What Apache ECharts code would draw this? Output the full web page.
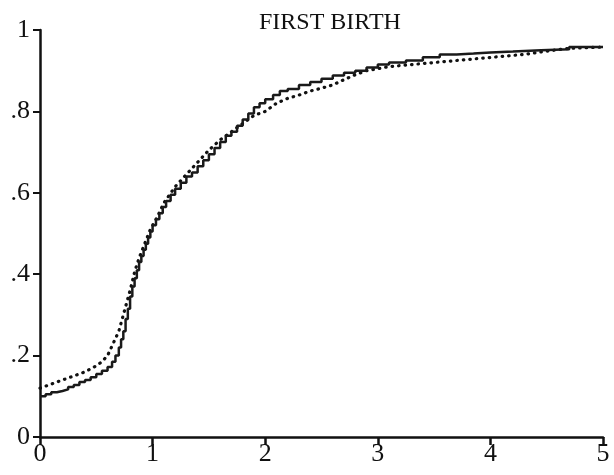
<!DOCTYPE html>
<html>
<head>
<meta charset="utf-8">
<title>First birth</title>
<script src="https://cdn.jsdelivr.net/npm/echarts@6/dist/echarts.min.js"></script>
<style>
  html, body { margin: 0; padding: 0; background: #ffffff; }
  #chart { width: 614px; height: 475px; }
</style>
</head>
<body>
<div id="chart"></div>
<script>
// Cumulative proportion having a first birth, by time (years)
const titleText = 'FIRST BIRTH';

const xTicks = ['0', '1', '2', '3', '4', '5'];
const yTickLabels = { 0: '0', 0.2: '.2', 0.4: '.4', 0.6: '.6', 0.8: '.8', 1: '1' };

// Observed (step function)
const observedX = [0, 0.05, 0.1, 0.15, 0.2, 0.25, 0.3, 0.35, 0.4, 0.45, 0.5, 0.55, 0.6, 0.64, 0.67,
  0.7, 0.72, 0.74, 0.76, 0.78, 0.8, 0.82, 0.84, 0.86, 0.88, 0.9, 0.92, 0.94, 0.96, 0.98,
  1.0, 1.03, 1.06, 1.09, 1.12, 1.16, 1.2, 1.25, 1.3, 1.35, 1.4, 1.45, 1.5, 1.55, 1.6,
  1.65, 1.7, 1.75, 1.8, 1.85, 1.9, 1.95, 2.0, 2.07, 2.13, 2.2, 2.3, 2.4, 2.5, 2.6,
  2.7, 2.8, 2.9, 3.0, 3.1, 3.25, 3.4, 3.55, 3.7, 3.85, 4.0, 4.2, 4.45, 4.7, 5.0];
const observedY = [0.10, 0.105, 0.11, 0.113, 0.117, 0.123, 0.128, 0.135, 0.14, 0.147, 0.155, 0.163, 0.172, 0.185, 0.2,
  0.22, 0.24, 0.26, 0.29, 0.315, 0.345, 0.37, 0.39, 0.41, 0.43, 0.445, 0.46, 0.475, 0.49, 0.505,
  0.52, 0.535, 0.55, 0.565, 0.58, 0.595, 0.61, 0.625, 0.64, 0.65, 0.665, 0.68, 0.695, 0.71, 0.725,
  0.74, 0.75, 0.765, 0.78, 0.795, 0.81, 0.82, 0.83, 0.84, 0.85, 0.855, 0.865, 0.872, 0.88, 0.888,
  0.895, 0.9, 0.908, 0.915, 0.92, 0.925, 0.933, 0.94, 0.942, 0.945, 0.947, 0.95, 0.953, 0.958, 0.958];

// Fitted (dotted)
const fittedX = [0, 0.1, 0.2, 0.3, 0.4, 0.5, 0.55, 0.6, 0.65, 0.7, 0.75, 0.8, 0.84, 0.88, 0.93,
  0.98, 1.04, 1.1, 1.2, 1.3, 1.4, 1.5, 1.6, 1.7, 1.8, 1.9, 2.0, 2.1, 2.2, 2.3,
  2.4, 2.5, 2.6, 2.7, 2.8, 2.9, 3.0, 3.1, 3.3, 3.5, 3.7, 3.9, 4.1, 4.3, 4.5, 4.7, 5.0];
const fittedY = [0.12, 0.13, 0.14, 0.15, 0.16, 0.175, 0.185, 0.2, 0.23, 0.26, 0.31, 0.36, 0.405, 0.44, 0.475,
  0.51, 0.54, 0.575, 0.615, 0.645, 0.675, 0.705, 0.73, 0.75, 0.77, 0.79, 0.80, 0.82, 0.832, 0.84,
  0.85, 0.857, 0.865, 0.878, 0.89, 0.9, 0.905, 0.91, 0.915, 0.92, 0.925, 0.93, 0.935, 0.94, 0.948, 0.955, 0.958];

const zip = (xs, ys) => xs.map((x, i) => [x, ys[i]]);

const serif = '"Liberation Serif", "DejaVu Serif", serif';
const ink = '#111111';

const chart = echarts.init(document.getElementById('chart'), null, { renderer: 'canvas' });

chart.setOption({
  backgroundColor: '#ffffff',
  animation: false,
  title: {
    text: titleText,
    left: 254,
    top: 6,
    textStyle: { fontFamily: serif, fontSize: 24, fontWeight: 'normal', color: ink }
  },
  grid: { left: 40, right: 11, top: 30, bottom: 38, containLabel: false },
  xAxis: {
    type: 'value',
    min: 0,
    max: 5,
    interval: 1,
    splitLine: { show: false },
    axisLine: { show: true, onZero: false, lineStyle: { color: ink, width: 2.5 } },
    axisTick: { show: true, length: 8, inside: false, lineStyle: { color: ink, width: 2.5 } },
    axisLabel: {
      margin: 4,
      fontFamily: serif,
      fontSize: 26,
      color: ink,
      formatter: v => xTicks[Math.round(v)]
    }
  },
  yAxis: {
    type: 'value',
    min: 0,
    max: 1,
    interval: 0.2,
    splitLine: { show: false },
    axisLine: { show: true, onZero: false, lineStyle: { color: ink, width: 2.5 } },
    axisTick: { show: true, length: 7, inside: false, lineStyle: { color: ink, width: 2 } },
    axisLabel: {
      margin: 10,
      fontFamily: serif,
      fontSize: 26,
      color: ink,
      formatter: v => yTickLabels[Math.round(v * 10) / 10]
    }
  },
  series: [
    {
      name: 'observed',
      type: 'line',
      step: 'end',
      data: zip(observedX, observedY),
      showSymbol: false,
      lineStyle: { color: '#1a1a1a', width: 2.5 },
      z: 3
    },
    {
      name: 'fitted',
      type: 'line',
      data: zip(fittedX, fittedY),
      showSymbol: false,
      lineStyle: { color: ink, width: 3.2, type: [0.5, 6], cap: 'round' },
      z: 2
    }
  ]
});
</script>
</body>
</html>
